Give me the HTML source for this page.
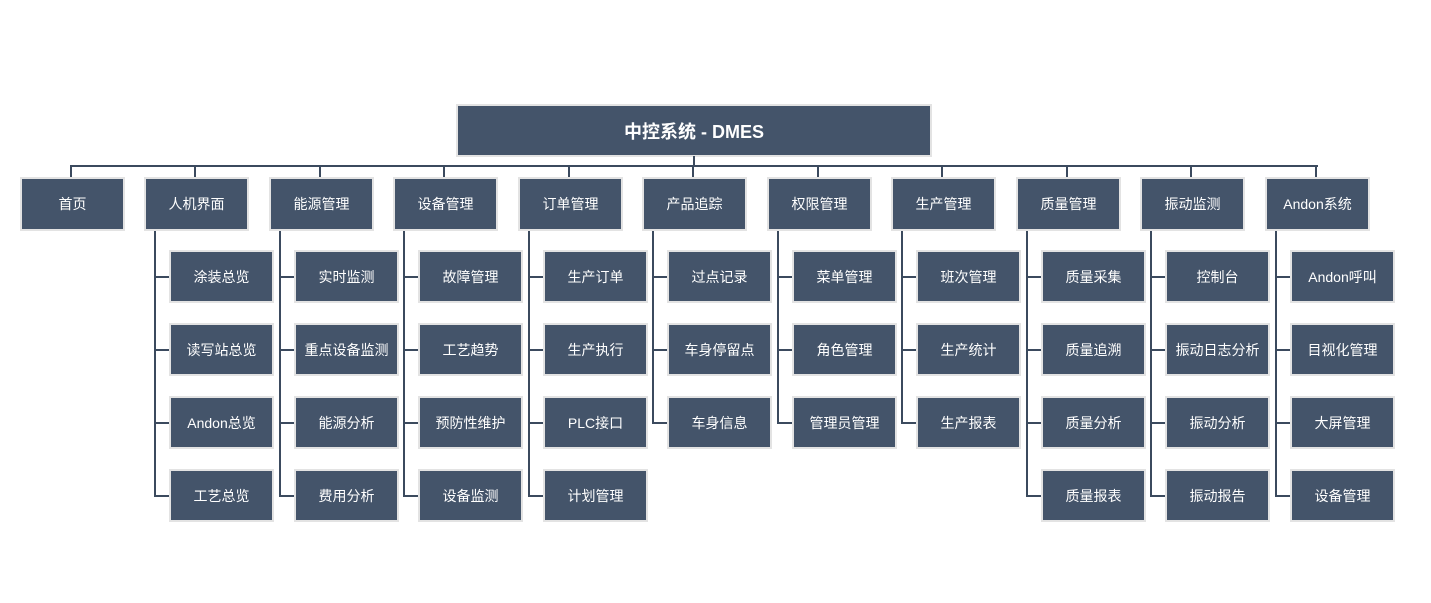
<!DOCTYPE html>
<html><head><meta charset="utf-8"><style>
body{margin:0;width:1431px;height:603px;background:#fff;position:relative;overflow:hidden;font-family:"Liberation Sans","Noto Sans CJK SC",sans-serif}
.b{position:absolute;box-sizing:border-box;background:#44546a;border:2px solid #e3e3e3;color:#fff;font-size:14px;display:flex;align-items:center;justify-content:center;white-space:nowrap}
.l{position:absolute;background:#3b4a5e}
</style></head><body>
<div class="b" style="left:456px;top:104px;width:476px;height:53px;font-size:18px;font-weight:bold">中控系统 - DMES</div>
<div class="l" style="left:693px;top:156px;width:2px;height:11px"></div>
<div class="l" style="left:70px;top:165px;width:1248px;height:2px"></div>
<div id="c"></div>
<script>
var cols=[["首页",[]],["人机界面",["涂装总览","读写站总览","Andon总览","工艺总览"]],["能源管理",["实时监测","重点设备监测","能源分析","费用分析"]],["设备管理",["故障管理","工艺趋势","预防性维护","设备监测"]],["订单管理",["生产订单","生产执行","PLC接口","计划管理"]],["产品追踪",["过点记录","车身停留点","车身信息"]],["权限管理",["菜单管理","角色管理","管理员管理"]],["生产管理",["班次管理","生产统计","生产报表"]],["质量管理",["质量采集","质量追溯","质量分析","质量报表"]],["振动监测",["控制台","振动日志分析","振动分析","振动报告"]],["Andon系统",["Andon呼叫","目视化管理","大屏管理","设备管理"]]];
var h="";
cols.forEach(function(c,i){
 var x=Math.round(19.5+i*124.55);
 h+='<div class="l" style="left:'+(x+50)+'px;top:165px;width:2px;height:13px"></div>';
 h+='<div class="b" style="left:'+x+'px;top:177px;width:105px;height:54px">'+c[0]+'</div>';
 var n=c[1].length;
 if(n){h+='<div class="l" style="left:'+(x+10)+'px;top:231px;width:2px;height:'+(277+73*(n-1)-231+1)+'px"></div>';}
 c[1].forEach(function(t,j){
  var y=250+73*j;
  h+='<div class="l" style="left:'+(x+10)+'px;top:'+(y+26)+'px;width:16px;height:2px"></div>';
  h+='<div class="b" style="left:'+(x+25)+'px;top:'+y+'px;width:105px;height:53px">'+t+'</div>';
 });
});
document.getElementById("c").innerHTML=h;
</script>
</body></html>
